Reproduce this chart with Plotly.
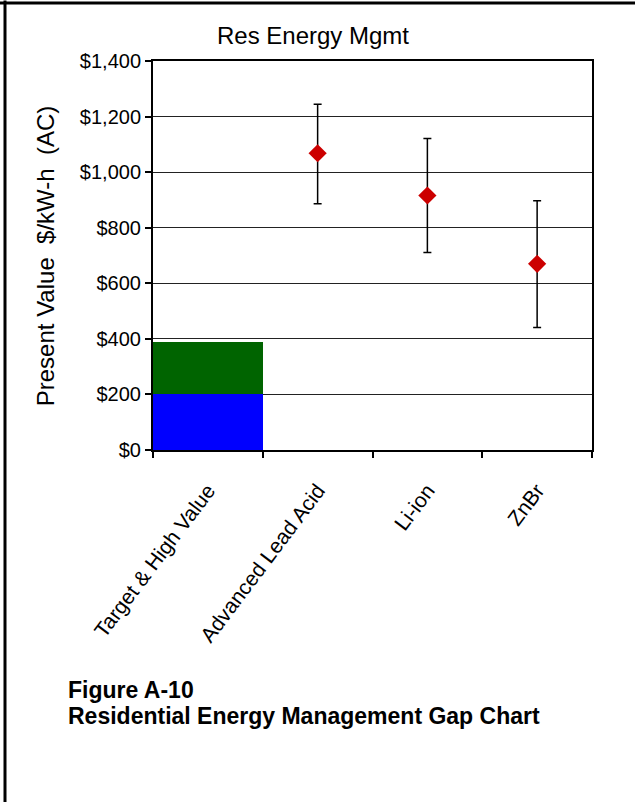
import plotly.graph_objects as go

# ---- data ----
categories = ["Target & High Value", "Advanced Lead Acid", "Li-ion", "ZnBr"]
target_low = [200]          # blue segment
target_high_extra = [187]   # green segment stacked on top
tech_names = ["Advanced Lead Acid", "Li-ion", "ZnBr"]
tech_mid = [1068, 916, 670]
tech_high = [1244, 1121, 897]
tech_low = [886, 711, 441]
y_ticks = [0, 200, 400, 600, 800, 1000, 1200, 1400]
y_tick_labels = ["$0", "$200", "$400", "$600", "$800", "$1,000", "$1,200", "$1,400"]

W, H = 635, 802
L, R, T, B = 153, 592, 60.5, 450  # plot area in pixels


def px_x(x):
    return (x - L) / (R - L)


def px_y(y):
    return (B - y) / (B - T)


FONT = "Liberation Sans, Arial, sans-serif"

fig = go.Figure()
fig.add_trace(go.Bar(x=[categories[0]], y=target_low, marker=dict(color="#0000FF", line=dict(width=0)),
                     width=1, showlegend=False))
fig.add_trace(go.Bar(x=[categories[0]], y=target_high_extra, marker=dict(color="#006400", line=dict(width=0)),
                     width=1, showlegend=False))
fig.add_trace(go.Scatter(
    x=tech_names, y=tech_mid, mode="markers",
    marker=dict(symbol="diamond", size=14, color="#CC0000", line=dict(width=0)),
    error_y=dict(type="data", symmetric=False,
                 array=[h - m for h, m in zip(tech_high, tech_mid)],
                 arrayminus=[m - l for m, l in zip(tech_mid, tech_low)],
                 color="black", thickness=1.5, width=4),
    showlegend=False))

fig.update_layout(
    width=W, height=H,
    margin=dict(l=L, r=W - R, t=T, b=H - B),
    paper_bgcolor="white", plot_bgcolor="white",
    barmode="stack", bargap=0,
    font=dict(family=FONT, color="black", size=19),
    title=dict(text="Res Energy Mgmt", x=313 / W, y=1 - 36 / H, xanchor="center", yanchor="middle",
               xref="container", yref="container", font=dict(size=24, family=FONT, color="black")),
    xaxis=dict(type="category", categoryorder="array", categoryarray=categories,
               range=[-0.5, 3.5], tickson="boundaries", ticks="outside", ticklen=6,
               tickcolor="black", tickwidth=1.5, tickangle=-53, ticklabelstandoff=18,
               showline=True, linecolor="black", linewidth=2, mirror=True,
               showgrid=False, tickfont=dict(size=21, family=FONT, color="black")),
    yaxis=dict(range=[0, 1400], tickvals=y_ticks, ticktext=y_tick_labels,
               ticks="outside", ticklen=6, tickcolor="black", tickwidth=1.5,
               showline=True, linecolor="black", linewidth=2, mirror=True,
               showgrid=True, gridcolor="#222222", gridwidth=1.2, zeroline=False,
               tickfont=dict(size=20, family=FONT, color="black")),
    annotations=[
        dict(text="Present Value  $/kW-h  (AC)", textangle=-90, x=px_x(45), y=px_y(256),
             xref="paper", yref="paper", showarrow=False, xanchor="center", yanchor="middle",
             font=dict(size=24, family=FONT, color="black")),
        dict(text="<b>Figure A-10</b>",
             x=px_x(66), y=px_y(690), xref="paper", yref="paper", showarrow=False,
             xanchor="left", yanchor="middle", align="left",
             font=dict(size=23, family=FONT, color="black")),
        dict(text="<b>Residential Energy Management Gap Chart</b>",
             x=px_x(66), y=px_y(716), xref="paper", yref="paper", showarrow=False,
             xanchor="left", yanchor="middle", align="left",
             font=dict(size=23, family=FONT, color="black")),
    ],
    shapes=[
        dict(type="line", xref="paper", yref="paper", x0=px_x(5), x1=px_x(5), y0=px_y(H + 5), y1=px_y(0),
             line=dict(color="black", width=3)),
        dict(type="line", xref="paper", yref="paper", x0=px_x(0), x1=px_x(W + 5), y0=px_y(2.5), y1=px_y(2.5),
             line=dict(color="black", width=3)),
    ],
)

fig.write_html("out.html", config={"displayModeBar": False},
               post_script="document.body.style.margin='0';document.body.style.overflow='hidden';")
